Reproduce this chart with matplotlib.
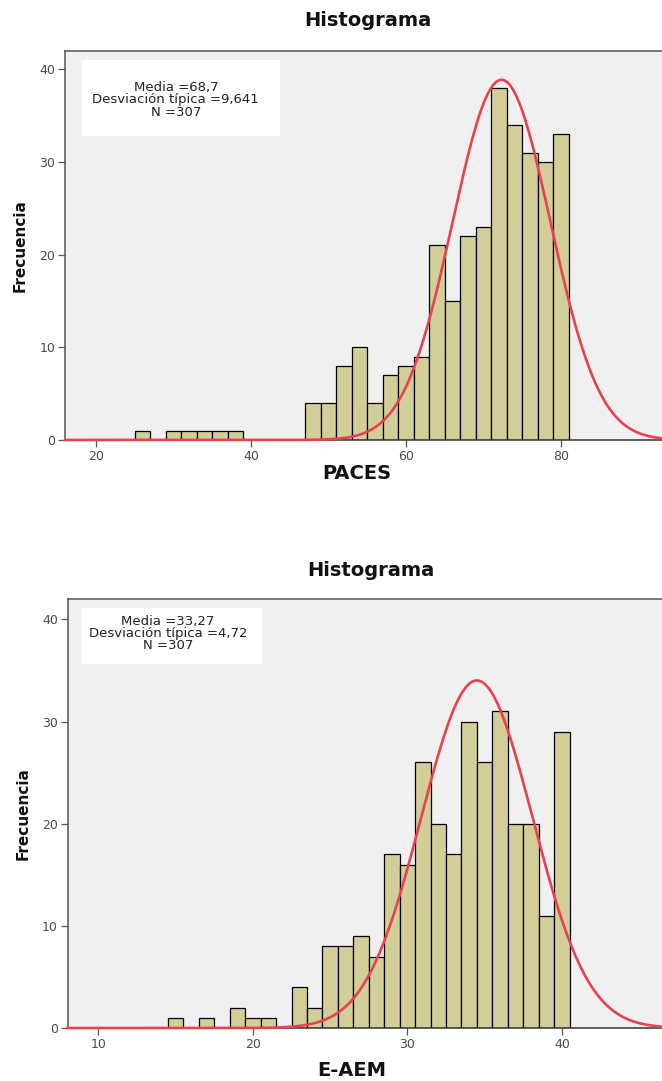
import numpy as np
import matplotlib
matplotlib.use("Agg")
import matplotlib.pyplot as plt
from matplotlib.patches import Rectangle

# PACES histogram (bin width 2)
paces_centers = [26, 30, 32, 34, 36, 38, 48, 50, 52, 54, 56, 58, 60, 62,
                 64, 66, 68, 70, 72, 74, 76, 78, 80]
paces_counts = [1, 1, 1, 1, 1, 1, 4, 4, 8, 10, 4, 7, 8, 9,
                21, 15, 22, 23, 38, 34, 31, 30, 33]
paces_stats = "Media =68,7\nDesviación típica =9,641\nN =307"
paces_curve = (72.3, 6.3)   # centre and spread of the drawn curve

# E-AEM histogram (bin width 1)
eaem_centers = [15, 17, 19, 20, 21, 23, 24, 25, 26, 27, 28, 29, 30, 31,
                32, 33, 34, 35, 36, 37, 38, 39, 40]
eaem_counts = [1, 1, 2, 1, 1, 4, 2, 8, 8, 9, 7, 17, 16, 26,
               20, 17, 30, 26, 31, 20, 20, 11, 29]
eaem_stats = "Media =33,27\nDesviación típica =4,72\nN =307"
eaem_curve = (34.5, 3.6)

BAR = "#d3ce97"
CURVE = "#e8414f"
FRAME = "#555555"
TICK = "#4a4a4a"


def draw_hist(ax, centers, counts, width, curve, xlim, xticks, xlabel,
              stats, box, text_xy, xlabel_xy):
    ax.set_facecolor("#f0f0f0")
    ax.bar(centers, counts, width=width, color=BAR, edgecolor="black",
           linewidth=0.9, zorder=2)

    # normal curve scaled to counts
    n = sum(counts)
    mu, sd = curve
    xs = np.linspace(xlim[0], xlim[1], 500)
    ys = n * width * np.exp(-0.5 * ((xs - mu) / sd) ** 2) / (sd * np.sqrt(2 * np.pi))
    ax.plot(xs, ys, color=CURVE, linewidth=1.9, zorder=3, clip_on=False)

    ax.set_xlim(*xlim)
    ax.set_ylim(0, 42)
    ax.set_xticks(xticks)
    ax.set_yticks([0, 10, 20, 30, 40])
    ax.tick_params(axis="both", direction="out", length=5, width=0.9,
                   color=FRAME, labelcolor=TICK, labelsize=9, pad=2)

    for side in ["top", "left", "bottom"]:
        ax.spines[side].set_color(FRAME)
        ax.spines[side].set_linewidth(1.1)
    ax.spines["bottom"].set_color("#333333")
    ax.spines["right"].set_visible(False)

    ax.set_xlabel(xlabel, fontsize=14, fontweight="bold", color="#111111")
    ax.xaxis.set_label_coords(*xlabel_xy)
    ax.xaxis.label.set_verticalalignment("center")
    ax.set_ylabel("Frecuencia", fontsize=11, fontweight="bold", color="#111111")
    ax.yaxis.set_label_coords(-0.074, 0.5)
    ax.yaxis.label.set_verticalalignment("center")

    # stats box
    x0, y0, x1, y1 = box
    ax.add_patch(Rectangle((x0, y0), x1 - x0, y1 - y0, transform=ax.transAxes,
                           facecolor="white", edgecolor="none", zorder=4))
    ax.text(text_xy[0], text_xy[1], stats, transform=ax.transAxes,
            ha="center", va="center", fontsize=9.5, linespacing=0.92,
            color="#222222", zorder=5, multialignment="center")


fig = plt.figure(figsize=(6.62, 10.81), dpi=100)

ax1 = fig.add_axes([0.0982, 0.5930, 0.91, 0.3599])
draw_hist(ax1, paces_centers, paces_counts, 2, paces_curve, (16.0, 93.7),
          [20, 40, 60, 80], "PACES", paces_stats,
          (0.028, 0.781, 0.357, 0.977), (0.184, 0.874), (0.484, -0.087))

ax2 = fig.add_axes([0.1020, 0.0490, 0.91, 0.3969])
draw_hist(ax2, eaem_centers, eaem_counts, 1, eaem_curve, (8.0, 47.0),
          [10, 20, 30, 40], "E-AEM", eaem_stats,
          (0.022, 0.848, 0.322, 0.979), (0.167, 0.920), (0.472, -0.100))

fig.text(368 / 662, 1 - 20 / 1081, "Histograma", ha="center", va="center",
         fontsize=14, fontweight="bold", color="#111111")
fig.text(371 / 662, 1 - 570 / 1081, "Histograma", ha="center", va="center",
         fontsize=14, fontweight="bold", color="#111111")

fig.savefig("out.png", dpi=100, facecolor="white")
